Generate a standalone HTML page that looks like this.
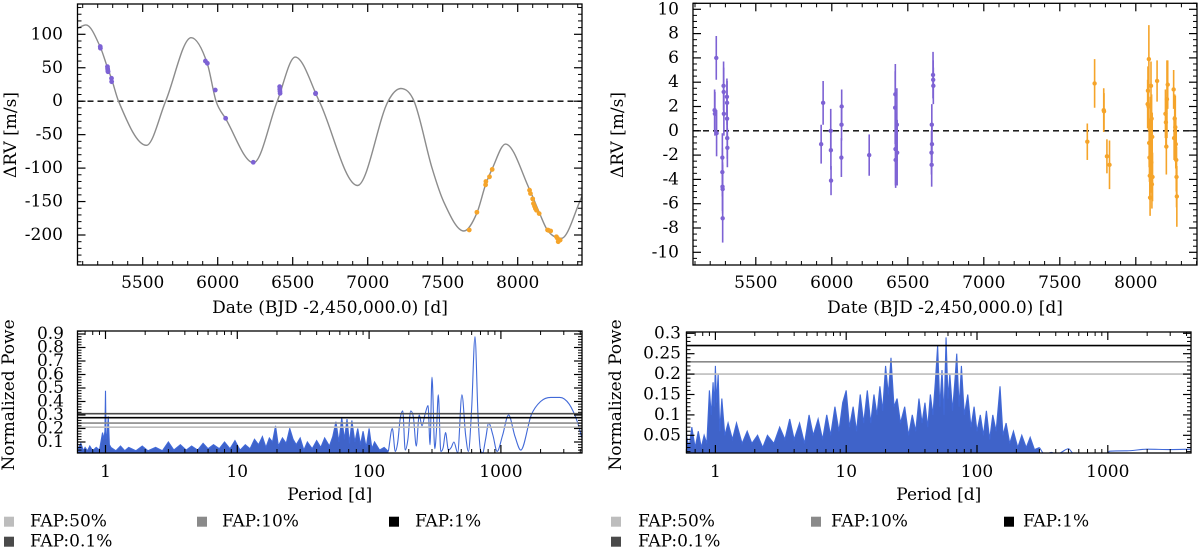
<!DOCTYPE html>
<html><head><meta charset="utf-8"><style>
html,body{margin:0;padding:0;background:#fff;}
svg{display:block;font-family:"DejaVu Serif","Liberation Serif",serif;}
</style></head><body>
<svg id="fig" width="1200" height="552" viewBox="0 0 1200 552" xmlns="http://www.w3.org/2000/svg">
<defs>
<clipPath id="cTL"><rect x="77.5" y="4" width="504.5" height="261"/></clipPath>
<clipPath id="cTR"><rect x="693" y="3.3" width="504" height="261.7"/></clipPath>
<clipPath id="cBL"><rect x="77.5" y="331" width="504.5" height="122"/></clipPath>
<clipPath id="cBR"><rect x="686.5" y="332" width="504.5" height="121"/></clipPath>
</defs>
</svg>
<script>
// ===== Data: top-left model curve =====
const modelDates=[5066,5122,5217,5267,5293,5339,5525,5653,5823,5931,5989,6053,6239,6397,6517,6677,6932,7136,7221,7309,7429,7506,7641,7728,7787,7830,7919,8079,8143,8199,8291,8429];
const modelRV=[109,114,81,49,33,0,-66,0,95,56,0,-26,-92,0,66,0,-126,0,19,0,-100,-150,-194,-167,-124,-101,-64,-132,-166,-193,-205,-142];
// top-left observations
const hiresDates=[5217,5218,5265,5266,5267,5268,5269,5292,5293,5918,5931,5984,6053,6237,6413,6414,6415,6416,6652,6653];
const hiresRV=[81.7,79.2,51.6,49,47,45,44,34.2,29.2,60,56.6,16.7,-25.6,-91.3,21.7,18,15,11.8,11.2,12];
const harpsDates=[7677,7728,7786,7788,7812,7830,8079,8085,8100,8105,8112,8118,8125,8143,8199,8205,8220,8258,8265,8270,8283];
const harpsRV=[-192.5,-166,-125,-120,-113,-102,-133,-138,-146,-153,-157,-160.5,-163,-168,-192.5,-193,-194,-202.6,-205,-210,-207.6];
// top-right residuals
const resADates=[5229,5231,5240,5242,5280,5280,5281,5282,5282,5288,5289,5290,5310,5311,5311,5312,5313,5930,5943,5993,5994,5995,6063,6064,6065,6246,6417,6418,6419,6420,6428,6430,6656,6657,6658,6659,6666,6667,6668];
const resAVals=[1.7,1.4,6.0,-0.2,-2.2,-3.4,-4.6,-4.8,-7.2,3.7,3.2,1.4,2.8,2.3,1.0,-0.6,-1.4,-1.1,2.3,0.0,-1.6,-4.1,-2.2,0.5,2.0,-2.0,1.9,3.0,-1.5,-2.4,0.5,-1.8,-1.8,-2.8,0.5,-1.1,4.6,4.2,3.7];
const resAErr=[1.7,1.8,1.8,1.9,2.0,2.0,2.0,2.0,2.0,2.0,2.0,1.8,1.5,1.8,1.5,1.7,1.6,1.6,1.8,1.8,1.6,1.2,1.6,1.3,1.4,1.7,3.0,2.5,3.0,2.3,3.0,2.7,1.8,1.8,1.7,1.5,1.9,1.6,1.5];
const resBDates=[7681,7729,7789,7791,7810,7827,8078,8080,8084,8086,8088,8090,8092,8094,8096,8098,8100,8102,8104,8106,8108,8110,8140,8195,8198,8201,8205,8210,8249,8252,8256,8260,8263,8266,8268,8270];
const resBVals=[-0.9,3.9,1.7,1.6,-2.1,-2.8,2.2,3.3,2.0,5.9,-1.0,-2.2,-3.7,-5.5,0.5,-0.7,3.7,-2.6,1.0,-4.4,-0.5,-3.8,4.1,1.4,0.7,-1.3,2.6,3.8,3.4,-0.6,1.0,0.3,-1.1,-2.4,-3.8,-5.4];
const resBErr=[1.5,2.0,1.8,1.5,1.4,2.0,2.0,2.0,2.0,2.8,2.0,2.0,2.0,1.5,2.3,2.0,2.0,2.5,2.0,2.0,2.0,2.0,1.7,2.0,2.0,2.3,3.2,2.0,1.6,1.8,2.0,2.6,2.0,2.6,2.5,2.5];
// periodograms
const perL=[0.62,0.65,0.68,0.7,0.73,0.76,0.8,0.85,0.9,0.95,0.97,0.99,1.0,1.01,1.03,1.05,1.07,1.1,1.2,1.3,1.4,1.5,1.7,1.9,2.1,2.4,2.7,3.0,3.3,3.7,4.1,4.5,5.0,5.5,6.0,6.6,7.3,8.0,8.8,9.6,10.5,11.5,12.5,13.5,14.5,15.5,16.5,17.5,18.5,19.5,20.5,22,23.5,25,26.5,28,30,32,34,37,40,43,46,50,53,56,59,62,65,68,71,74,78,82,86,90,95,100,105,110,120,130,140,150,158,165,172,180,188,197,207,217,228,240,252,265,280,290,300,315,325,335,350,365,380,400,420,440,470,506,540,567,600,636,670,700,727,765,808,870,936,1030,1143,1280,1416,1700,2000,2388,2800,3300,3800,4118];
const powL=[0.05,0.09,0.035,0.06,0.035,0.07,0.035,0.06,0.04,0.17,0.12,0.18,0.48,0.12,0.16,0.29,0.08,0.06,0.035,0.07,0.035,0.06,0.035,0.07,0.035,0.06,0.035,0.1,0.04,0.08,0.04,0.07,0.04,0.09,0.05,0.08,0.05,0.1,0.05,0.11,0.04,0.08,0.05,0.12,0.08,0.14,0.06,0.13,0.1,0.22,0.07,0.13,0.09,0.2,0.12,0.08,0.13,0.04,0.1,0.05,0.11,0.06,0.13,0.07,0.14,0.25,0.1,0.28,0.12,0.27,0.09,0.26,0.1,0.2,0.08,0.18,0.06,0.2,0.05,0.1,0.04,0.06,0.03,0.2,0.03,0.1,0.27,0.33,0.04,0.12,0.33,0.28,0.07,0.3,0.22,0.3,0.37,0.08,0.58,0.05,0.2,0.45,0.03,0.06,0.17,0.04,0.06,0.1,0.02,0.45,0.15,0.03,0.35,0.88,0.3,0.04,0.02,0.12,0.24,0.15,0.03,0.15,0.3,0.14,0.04,0.3,0.4,0.43,0.43,0.38,0.25,0.13];
const fapL=[0.21,0.24,0.28,0.31];
const perR=[0.60,0.63,0.66,0.70,0.74,0.78,0.82,0.86,0.90,0.93,0.96,0.98,1.0,1.02,1.05,1.08,1.12,1.18,1.25,1.35,1.45,1.6,1.75,1.9,2.1,2.3,2.5,2.8,3.1,3.4,3.7,4.0,4.4,4.8,5.2,5.6,6.1,6.6,7.1,7.6,8.2,8.8,9.4,10.0,10.6,11.3,12.0,12.8,13.6,14.5,15.4,16.3,17.2,18.1,19.0,20.0,21.0,22.0,23.2,24.5,26,28,30,32,34,36,38,40,42,44,46,48,50,52,54,56,58,60,62,65,68,70,73,76,80,85,90,95,100,106,112,118,125,132,140,150,158,167,178,190,205,220,238,255,275,300,330,370,410,450,500,550,650,800,1000,1030,1400,2000,3000,4330];
const powR=[0.05,0.02,0.07,0.02,0.06,0.02,0.05,0.03,0.16,0.1,0.18,0.12,0.22,0.13,0.2,0.06,0.14,0.05,0.08,0.04,0.08,0.03,0.06,0.03,0.05,0.02,0.05,0.03,0.07,0.04,0.09,0.04,0.08,0.03,0.1,0.05,0.09,0.04,0.1,0.05,0.12,0.06,0.13,0.16,0.07,0.12,0.06,0.15,0.08,0.16,0.08,0.15,0.1,0.17,0.11,0.22,0.15,0.24,0.12,0.14,0.08,0.12,0.05,0.1,0.06,0.14,0.08,0.13,0.07,0.15,0.1,0.18,0.27,0.12,0.21,0.1,0.29,0.14,0.2,0.11,0.19,0.25,0.12,0.22,0.1,0.15,0.07,0.12,0.06,0.1,0.05,0.11,0.04,0.1,0.06,0.17,0.05,0.08,0.03,0.06,0.02,0.05,0.02,0.045,0.015,0.02,0.003,0.008,0.003,0.01,0.017,0.004,0.003,0.004,0.005,0.011,0.012,0.016,0.015,0.016];
const fapR=[0.2,0.23,0.27];
const fapColors=['#bdbdbd','#8a8a8a','#000000','#4a4a4a'];

const NS='http://www.w3.org/2000/svg';
const svg=document.getElementById('fig');
function el(tag,attrs,parent){const e=document.createElementNS(NS,tag);for(const k in attrs)e.setAttribute(k,attrs[k]);(parent||svg).appendChild(e);return e;}
function lin(d0,d1,p0,p1){return v=>p0+(v-d0)/(d1-d0)*(p1-p0);}
function logx(p1,dec){return v=>p1+Math.log10(v)*dec;}

const xTL=lin(5500,8000,142.7,517.7), yTL=lin(100,-200,34.3,235);
const xTR=lin(5500,8000,755.8,1135.8), yTR=lin(10,-10,9.3,252.3);
const xBL=logx(105.5,131.8), yBL=lin(0.1,0.9,442,334);
const xBR=logx(715.4,130.8), yBR=lin(0.05,0.3,435.3,333.3);

function monoPath(px,py){
  const n=px.length;const d=[],m=[];
  for(let i=0;i<n-1;i++)d.push((py[i+1]-py[i])/(px[i+1]-px[i]));
  m[0]=d[0];m[n-1]=d[n-2];
  for(let i=1;i<n-1;i++){m[i]=(d[i-1]*d[i]<=0)?0:(d[i-1]+d[i])/2;}
  for(let i=0;i<n-1;i++){if(d[i]===0){m[i]=0;m[i+1]=0;continue;}const a=m[i]/d[i],b=m[i+1]/d[i],s=a*a+b*b;if(s>9){const t=3/Math.sqrt(s);m[i]=t*a*d[i];m[i+1]=t*b*d[i];}}
  let s='M'+px[0].toFixed(2)+','+py[0].toFixed(2);
  for(let i=0;i<n-1;i++){const h=px[i+1]-px[i];s+=' C'+(px[i]+h/3).toFixed(2)+','+(py[i]+m[i]*h/3).toFixed(2)+' '+(px[i+1]-h/3).toFixed(2)+','+(py[i+1]-m[i+1]*h/3).toFixed(2)+' '+px[i+1].toFixed(2)+','+py[i+1].toFixed(2);}
  return s;
}

function frame(name,x0,y0,x1,y1){
  const r=el('rect',{x:x0,y:y0,width:x1-x0,height:y1-y0,fill:'none',stroke:'#000','stroke-width':1.3});
  
  
}
function xTicks(pan,sx,majors,minors,labels,y0,y1,labelY){
  majors.forEach((v,i)=>{const x=sx(v);
    const t=el('line',{x1:x,x2:x,y1:y1,y2:y1-8,stroke:'#000','stroke-width':1.2});
    
    
    const t2=el('line',{x1:x,x2:x,y1:y0,y2:y0+8,stroke:'#000','stroke-width':1.2});
    
    
    if(labels[i]!==''){const l=el('text',{x:x,y:labelY,'text-anchor':'middle','font-size':17,'dominant-baseline':'central'});l.textContent=labels[i];
    
    }
  });
  minors.forEach(v=>{const x=sx(v);
    const t=el('line',{x1:x,x2:x,y1:y1,y2:y1-4,stroke:'#000','stroke-width':1});
    
    
    const t2=el('line',{x1:x,x2:x,y1:y0,y2:y0+4,stroke:'#000','stroke-width':1});
    
    
  });
}
function yTicks(pan,sy,majors,minors,labels,x0,x1,labelX,fs){
  majors.forEach((v,i)=>{const y=sy(v);
    const t=el('line',{x1:x0,x2:x0+8,y1:y,y2:y,stroke:'#000','stroke-width':1.2});
    
    
    const t2=el('line',{x1:x1,x2:x1-8,y1:y,y2:y,stroke:'#000','stroke-width':1.2});
    
    
    const l=el('text',{x:labelX,y:y,'text-anchor':'end','font-size':fs||17,'dominant-baseline':'central'});l.textContent=labels[i];
    
    
  });
  minors.forEach(v=>{const y=sy(v);
    const t=el('line',{x1:x0,x2:x0+4,y1:y,y2:y,stroke:'#000','stroke-width':1});
    
    
    const t2=el('line',{x1:x1,x2:x1-4,y1:y,y2:y,stroke:'#000','stroke-width':1});
    
    
  });
}
function title(name,txt,x,y,rot){
  const t=el('text',{x:x,y:y,'text-anchor':'middle','font-size':17,'dominant-baseline':'central'});
  if(rot)t.setAttribute('transform','rotate(-90 '+x+' '+y+')');
  t.textContent=txt;
  
  
}
function range(a,b,s){const r=[];for(let v=a;v<=b+1e-9;v+=s)r.push(+v.toFixed(4));return r;}
function logMinors(lo,hi){const r=[];for(let e=-1;e<=3;e++)for(let k=2;k<=9;k++){const v=k*Math.pow(10,e);if(v>=lo&&v<=hi)r.push(v);}return r;}

// ===== Top-left panel =====
(function(){
  const g=el('g',{'clip-path':'url(#cTL)'});
  
  
  const z=el('line',{x1:77.5,x2:582,y1:yTL(0),y2:yTL(0),stroke:'#000','stroke-width':1.3,'stroke-dasharray':'6,4'},g);
  
  
  const c=el('path',{d:monoPath(modelDates.map(xTL),modelRV.map(yTL)),fill:'none',stroke:'#8c8c8c','stroke-width':1.4},g);
  
  
  hiresDates.forEach((d,i)=>{const p=el('circle',{cx:xTL(d),cy:yTL(hiresRV[i]),r:2.4,fill:'#7d62d4'},g);
    
    });
  harpsDates.forEach((d,i)=>{const p=el('circle',{cx:xTL(d),cy:yTL(harpsRV[i]),r:2.4,fill:'#f5a42a'},g);
    
    });
  xTicks('tl',xTL,range(5500,8000,500),range(5100,8400,100).filter(v=>v%500!==0),['5500','6000','6500','7000','7500','8000'],4,265,283);
  yTicks('tl',yTL,range(-200,100,50),range(-240,140,10).filter(v=>v%50!==0),['-200','-150','-100','-50','0','50','100'],77.5,582,63);
  frame('rv-fit-frame',77.5,4,582,265);
  title('tl-x-axis-title','Date (BJD -2,450,000.0) [d]',330,308);
  title('tl-y-axis-title','ΔRV [m/s]',11,135,true);
})();

// ===== Top-right panel =====
(function(){
  const g=el('g',{'clip-path':'url(#cTR)'});
  
  
  const z=el('line',{x1:693,x2:1197,y1:yTR(0),y2:yTR(0),stroke:'#000','stroke-width':1.3,'stroke-dasharray':'6,4'},g);
  
  
  function pts(ds,vs,es,col,nm){ds.forEach((d,i)=>{const x=xTR(d);
    const e=el('line',{x1:x,x2:x,y1:yTR(vs[i]-es[i]),y2:yTR(vs[i]+es[i]),stroke:col,'stroke-width':1.6},g);
    
    
    const p=el('circle',{cx:x,cy:yTR(vs[i]),r:2.2,fill:col},g);
    
    });}
  pts(resADates,resAVals,resAErr,'#7d62d4','hires-residual');
  pts(resBDates,resBVals,resBErr,'#f5a42a','harps-residual');
  xTicks('tr',xTR,range(5500,8000,500),range(5100,8400,100).filter(v=>v%500!==0),['5500','6000','6500','7000','7500','8000'],3.3,265,283);
  yTicks('tr',yTR,range(-10,10,2),range(-10.5,10.5,0.5).filter(v=>Math.abs(v%2)>1e-6),['-10','-8','-6','-4','-2','0','2','4','6','8','10'],693,1197,679);
  frame('residuals-frame',693,3.3,1197,265);
  title('tr-x-axis-title','Date (BJD -2,450,000.0) [d]',945,308);
  title('tr-y-axis-title','ΔRV [m/s]',618,135,true);
})();

// ===== Periodograms =====
function pgram(pan,sx,sy,box,per,pow,faps,cut,yMaj,yLab,yMin,clip,labelX,fs,titleX){
  const g=el('g',{'clip-path':'url('+clip+')'});
  
  
  const xs=per.map(sx),ys=pow.map(sy);
  const lastI=per.filter(p=>p<=cut).length-1;
  let poly='';
  for(let i=0;i<=lastI;i++)poly+=(i?' L':'M')+xs[i].toFixed(2)+','+ys[i].toFixed(2);
  const fp='M'+xs[0].toFixed(2)+','+box[3]+' L'+poly.slice(1)+' L'+xs[lastI].toFixed(2)+','+box[3]+' Z';
  const f=el('path',{d:fp,fill:'#3f63c9',stroke:'none'},g);
  
  
  const ln=el('path',{d:poly,fill:'none',stroke:'#4169d8','stroke-width':1.1,'stroke-linejoin':'miter'},g);
  
  
  const ln2=el('path',{d:monoPath(xs.slice(lastI),ys.slice(lastI)),fill:'none',stroke:'#4169d8','stroke-width':1.1},g);
  
  
  faps.forEach((v,i)=>{const l=el('line',{x1:box[0],x2:box[2],y1:sy(v),y2:sy(v),stroke:fapColors[i],'stroke-width':1.6},g);
    
    });
  xTicks(pan,sx,[1,10,100,1000],logMinors(per[0],per[per.length-1]),['1','10','100','1000'],box[1],box[3],472);
  yTicks(pan,sy,yMaj,yMin,yLab,box[0],box[2],labelX,fs);
  frame(pan+'-periodogram-frame',box[0],box[1],box[2],box[3]);
  title(pan+'-x-axis-title','Period [d]',(box[0]+box[2])/2,495);
  const t=el('text',{x:titleX,y:395,'text-anchor':'middle','font-size':17,'dominant-baseline':'central',transform:'rotate(-90 '+titleX+' 395)'});
  t.textContent='Normalized Powe';
  
  
}
pgram('bl',xBL,yBL,[77.5,331,582,453],perL,powL,fapL,140,range(0.1,0.9,0.1),['0.1','0.2','0.3','0.4','0.5','0.6','0.7','0.8','0.9'],range(0.02,0.92,0.02).filter(v=>Math.abs((v*10)%1)>1e-6),'#cBL',64,17,9);
pgram('br',xBR,yBR,[686.5,332,1191,453],perR,powR,fapR,300,[0.05,0.1,0.15,0.2,0.25,0.3],['0.05','0.1','0.15','0.2','0.25','0.3'],range(0.01,0.3,0.01).filter(v=>Math.abs((v*20)%1)>1e-6),'#cBR',681,17,616);

// ===== Legends =====
const legLabels=['FAP:50%','FAP:10%','FAP:1%','FAP:0.1%'];
function legend(pan,xs,txs){
  const rows=[[0,521.7],[1,521.7],[2,521.7],[0,541.7]];
  legLabels.forEach((lab,i)=>{const col=i<3?i:0;const y=rows[i][1];
    const s=el('rect',{x:xs[col],y:y-5,width:10,height:10,fill:fapColors[i]});
    
    
    const t=el('text',{x:txs[col],y:y,'font-size':17,'dominant-baseline':'central'});
    t.textContent=lab;
    
    });
}
legend('bl',[4,197,389],[30,222,415]);
legend('br',[611,811,1004],[638,831,1023]);
</script>
</body></html>
